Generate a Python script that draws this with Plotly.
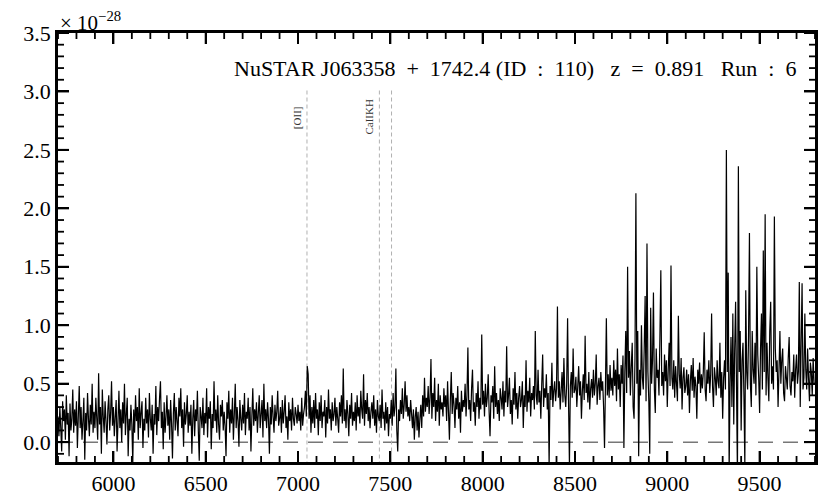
import plotly.graph_objects as go

# wavelength grid (Angstrom), 5 A sampling; one row = 100 A
wave_start = 5700
wave_step = 5

flux_blue = [  # 5700-6695
    0.22, 0.05, 0.30, 0.12, -0.08, 0.35, 0.18, 0.28, 0.02, 0.40, 0.15, 0.25, -0.12, 0.33, 0.10, 0.20, 0.45, 0.08, 0.28, 0.14,
    0.35, -0.05, 0.22, 0.48, 0.12, 0.30, 0.02, 0.18, 0.38, -0.15, 0.25, 0.10, 0.42, 0.20, 0.05, 0.32, 0.15, 0.50, 0.08, 0.26,
    0.12, 0.38, 0.20, 0.02, 0.59, 0.15, 0.30, -0.10, 0.45, 0.22, 0.08, 0.35, 0.18, -0.02, 0.28, 0.40, 0.10, 0.25, 0.52, 0.14,
    0.30, 0.05, 0.22, 0.36, -0.08, 0.18, 0.44, 0.12, 0.28, 0.00, 0.34, 0.16, 0.50, 0.06, 0.24, 0.38, -0.12, 0.20, 0.10, 0.32,
    0.15, -0.18, 0.28, 0.08, 0.40, 0.18, 0.30, 0.02, 0.46, 0.12, 0.25, 0.35, -0.05, 0.20, 0.10, 0.38, 0.16, 0.28, 0.04, 0.42,
    0.20, 0.10, 0.32, -0.10, 0.24, 0.15, 0.48, 0.06, 0.30, 0.18, 0.38, 0.52, 0.12, 0.26, -0.06, 0.34, 0.08, 0.22, 0.40, 0.14,
    0.28, 0.02, 0.36, 0.16, -0.14, 0.25, 0.42, 0.10, 0.30, 0.18, 0.05, 0.38, 0.22, 0.46, 0.12, 0.28, -0.04, 0.34, 0.15, 0.24,
    0.40, 0.08, 0.26, 0.14, 0.32, -0.10, 0.20, 0.36, 0.05, 0.28, 0.18, 0.44, 0.10, -0.16, 0.30, 0.22, 0.12, 0.38, 0.06, 0.25,
    0.16, 0.46, 0.04, 0.30, 0.20, 0.35, -0.06, 0.24, 0.12, 0.52, 0.18, 0.28, 0.08, 0.40, 0.15, 0.02, 0.32, 0.22, 0.36, 0.10,
    0.26, 0.14, -0.12, 0.34, 0.20, 0.44, 0.08, 0.28, 0.16, 0.38, 0.02, 0.24, 0.50, 0.12, 0.30, 0.18, -0.04, 0.36, 0.20, 0.10,
]
flux_mid = [  # 6700-7695
    0.32, 0.16, 0.42, 0.06, 0.26, 0.20, 0.38, 0.10, 0.30, -0.08, 0.22, 0.46, 0.14, 0.28, 0.18, 0.34, 0.08, 0.25, 0.40, 0.12,
    0.24, 0.36, 0.04, 0.50, 0.18, 0.28, 0.12, 0.34, 0.20, -0.10, 0.30, 0.15, 0.40, 0.22, 0.08, 0.32, 0.18, 0.26, 0.44, 0.14,
    0.20, 0.30, 0.08, 0.36, 0.16, 0.26, 0.40, 0.12, 0.22, 0.02, 0.34, 0.18, 0.28, 0.10, 0.38, 0.20, 0.14, 0.30, 0.24, 0.16,
    0.32, 0.18, 0.26, 0.10, 0.38, 0.14, 0.24, 0.30, 0.44, 0.22, 0.65, 0.58, 0.20, 0.40, 0.08, 0.30, 0.16, 0.36, 0.12, 0.42,
    0.20, 0.28, 0.06, 0.34, 0.18, 0.40, 0.12, 0.26, 0.22, 0.36, 0.04, 0.30, 0.16, 0.45, 0.20, 0.28, 0.10, 0.34, 0.18, 0.24,
    0.38, 0.14, 0.30, 0.20, 0.08, 0.34, 0.22, 0.40, 0.16, 0.63, 0.18, 0.28, 0.12, 0.36, 0.24, 0.05, 0.32, 0.20, 0.42, 0.14,
    0.26, 0.18, 0.34, 0.10, 0.40, 0.22, 0.30, 0.16, 0.44, 0.28, 0.20, 0.58, 0.14, 0.36, 0.24, 0.42, 0.18, 0.30, 0.12, 0.26,
    0.34, 0.20, 0.40, 0.14, 0.28, 0.08, 0.36, 0.22, 0.18, 0.32, 0.12, 0.45, 0.20, 0.26, 0.10, 0.34, 0.16, 0.30, 0.05, 0.24,
    0.20, 0.36, 0.14, 0.42, 0.22, 0.30, 0.63, 0.10, -0.08, 0.28, 0.18, 0.36, 0.24, 0.46, 0.20, 0.32, 0.52, 0.26, 0.40, 0.22,
    0.30, 0.18, 0.36, 0.24, 0.12, 0.28, 0.02, 0.22, 0.30, 0.10, 0.26, 0.04, 0.20, 0.32, 0.12, 0.40, 0.22, 0.55, 0.26, 0.38,
]
flux_red = [  # 7700-8695
    0.30, 0.48, 0.24, 0.38, 0.71, 0.20, 0.42, 0.30, 0.55, 0.18, 0.36, 0.26, 0.50, 0.14, 0.40, 0.28, 0.34, 0.22, 0.46, 0.30,
    0.40, 0.18, 0.52, 0.26, 0.02, 0.36, 0.60, 0.24, 0.42, 0.32, 0.12, 0.38, 0.28, 0.48, 0.20, 0.34, 0.08, 0.44, 0.26, 0.36,
    0.30, 0.50, 0.22, 0.40, 0.81, 0.28, 0.36, 0.18, 0.46, 0.62, 0.26, 0.34, 0.14, 0.42, 0.30, 0.52, 0.20, 0.38, 0.28, 0.92,
    0.32, 0.44, 0.22, 0.50, 0.30, 0.38, 0.58, 0.26, 0.05, 0.40, 0.34, 0.48, 0.20, 0.65, 0.30, 0.42, 0.24, 0.36, 0.18, 0.46,
    0.38, 0.28, 0.52, 0.22, 0.44, 0.34, 0.82, 0.30, 0.40, 0.55, 0.24, 0.36, 0.15, 0.46, 0.32, 0.60, 0.28, 0.42, 0.20, 0.38,
    0.48, 0.30, 0.36, 0.52, 0.12, 0.40, 0.30, 0.70, 0.26, 0.44, 0.34, 0.55, 0.22, 0.42, 0.36, 0.48, 0.28, 0.95, 0.40, 0.32,
    0.62, 0.34, 0.44, 0.20, 0.50, 0.75, 0.30, 0.46, 0.38, 0.58, 0.28, 0.42, -0.20, 0.48, 0.36, 0.68, 0.30, 0.44, 0.52, 0.35,
    0.46, 1.16, 0.38, 0.52, 0.28, 0.44, 0.60, 0.34, 0.72, 0.40, 0.30, 0.50, 1.06, 0.36, -0.20, 0.48, 0.60, 0.38, 0.80, 0.42,
    0.45, 0.56, 0.30, 0.48, 0.65, 0.40, 0.52, 0.20, 0.44, 0.58, 0.36, 0.91, 0.42, 0.50, 0.34, 0.60, 0.28, 0.46, 0.54, 0.38,
    0.62, 0.40, 0.50, 0.75, 0.32, 0.48, 0.55, 0.36, 0.60, 0.44, 0.52, 0.30, -0.05, 0.48, 1.06, 0.40, 0.58, 0.38, 0.66, 0.44,
]
flux_far = [  # 8700-9800
    0.55, 0.40, 0.70, 0.48, 0.62, 0.35, 0.80, 0.45, 0.58, 0.30, 0.66, 0.50, 0.74, -0.05, 0.60, 0.95, 0.42, 1.50, 0.55, 0.78,
    0.40, 0.65, 0.85, 0.30, 0.20, 0.72, 2.13, 0.50, 0.95, -0.12, 0.62, 0.40, 1.00, 0.55, 0.45, 0.80, 1.25, 0.35, 1.70, 0.60,
    0.35, -0.10, 1.15, 0.50, 0.70, 1.28, 0.45, 0.25, 0.80, 0.55, 0.62, 0.40, 0.90, 1.47, 0.48, 0.60, 0.40, 0.75, 0.52, 0.70,
    0.30, 0.62, 0.85, 0.48, 1.51, 0.55, 0.45, 0.70, 0.38, 0.65, 0.50, 0.35, 1.08, 0.58, 0.46, 0.72, 0.28, 0.55, 0.64, 0.42,
    0.48, 0.62, 0.40, 0.58, 0.25, 0.52, 0.66, 0.44, 0.72, 0.38, 0.56, 0.48, 0.20, 0.62, 0.50, 0.68, 0.42, 0.58, 0.46, 0.60,
    0.94, 0.45, 0.35, 0.62, 0.50, 0.70, 0.42, 0.58, 1.10, 0.48, 0.30, 0.64, 0.55, 0.40, 0.70, 0.52, 0.46, 0.85, 0.38, 0.60,
    0.20, 0.55, 0.70, 0.45, 2.50, 0.60, 1.45, -0.25, 0.50, 0.90, 0.30, 1.10, 0.15, 0.80, 1.20, 0.45, -0.30, 2.36, 0.60, 0.95,
    0.10, 0.70, 0.85, 0.40, -0.20, 1.30, 0.60, 0.45, 0.90, 1.79, 0.50, 0.30, 0.95, 0.62, 0.50, 0.85, 0.40, 1.50, 0.75, 0.55,
    0.25, 0.80, 1.10, 0.45, 1.64, 0.60, 1.95, 0.40, 0.85, 0.55, 0.35, 0.95, 1.20, 0.50, 0.65, 0.45, 1.93, 0.80, 0.60, 0.70,
    0.30, 0.62, 0.95, 0.50, 0.70, 0.80, 0.42, 0.35, 0.65, 0.55, 0.45, 0.72, 0.90, 0.48, 0.40, 0.60, 0.52, 0.75, 0.38, 0.62,
    0.75, 0.50, 0.60, 1.37, 0.30, 0.85, 1.36, 0.45, 0.55, 1.10, 0.62, 0.45, 0.80, 0.55, 0.35, 0.68, 0.60, 0.40, 0.72, 0.50,
    0.50,
]

flux = flux_blue + flux_mid + flux_red + flux_far
wave = [wave_start + wave_step * i for i in range(len(flux))]

line_names = ["[OII]", "CaIIKH", ""]
line_rest = [3727.4, 3934.8, 3969.6]
redshift = 0.891
title_text = ("NuSTAR J063358&nbsp; +&nbsp; 1742.4 (ID&nbsp; :&nbsp; 110)&nbsp;&nbsp; "
              "z&nbsp; =&nbsp; 0.891&nbsp;&nbsp; Run&nbsp; :&nbsp; 6")

x_range = [5700, 9800]
y_range = [-0.17, 3.5]
x_major = [6000, 6500, 7000, 7500, 8000, 8500, 9000, 9500]
x_minor = [w for w in range(5700, 9801, 100) if w % 500 != 0]
y_major = [0.0, 0.5, 1.0, 1.5, 2.0, 2.5, 3.0, 3.5]
y_minor = [k / 10 for k in range(-1, 35) if k % 5 != 0]

FONT = "Liberation Serif"
FIG_W, FIG_H = 822, 490
MARGIN = dict(l=50, r=15, t=25, b=36)
PLOT_W = FIG_W - MARGIN["l"] - MARGIN["r"]
PLOT_H = FIG_H - MARGIN["t"] - MARGIN["b"]

fig = go.Figure()
fig.add_trace(go.Scatter(x=wave, y=flux, mode="lines",
                         line=dict(color="black", width=1.2, simplify=False),
                         showlegend=False, hoverinfo="skip"))

shapes = []
annotations = []
for name, rest in zip(line_names, line_rest):
    obs = rest * (1 + redshift)
    shapes.append(dict(type="line", xref="x", yref="y", x0=obs, x1=obs,
                       y0=-0.2, y1=3.03,
                       line=dict(color="#b0b0b0", width=1, dash="4px,3px"),
                       layer="below"))
    if name:
        annotations.append(dict(x=obs, y=2.78, xref="x", yref="y", text=name,
                                showarrow=False, textangle=-90, xshift=-10,
                                font=dict(family=FONT, size=11, color="#333")))
shapes.append(dict(type="line", xref="paper", yref="y", x0=0, x1=1, y0=0, y1=0,
                   line=dict(color="#777777", width=1.5, dash="15px,10px"),
                   layer="below"))

# inward tick marks on all four sides, lengths given in paper fractions
def x_tick(v, length_px, width):
    f = length_px / PLOT_H
    for y0, y1 in ((0, f), (1, 1 - f)):
        shapes.append(dict(type="line", xref="x", yref="paper",
                           x0=v, x1=v, y0=y0, y1=y1, layer="below",
                           line=dict(color="black", width=width)))

def y_tick(v, length_px, width):
    f = length_px / PLOT_W
    for x0, x1 in ((0, f), (1, 1 - f)):
        shapes.append(dict(type="line", xref="paper", yref="y",
                           y0=v, y1=v, x0=x0, x1=x1, layer="below",
                           line=dict(color="black", width=width)))

for v in x_major:
    x_tick(v, 11, 2)
for v in x_minor:
    x_tick(v, 6, 1.8)
for v in y_major:
    y_tick(v, 11, 2)
for v in y_minor:
    y_tick(v, 6, 1.8)

annotations.append(dict(x=0.978, y=0.918, xref="paper", yref="paper",
                        text=title_text, showarrow=False, xanchor="right",
                        yanchor="middle",
                        font=dict(family=FONT, size=22, color="black")))
annotations.append(dict(x=0.0, y=1.0, xref="paper", yref="paper",
                        text="× 10<sup>−28</sup>", showarrow=False,
                        xanchor="left", yanchor="bottom", yshift=-4,
                        font=dict(family=FONT, size=21, color="black")))

# page body has an 8px margin: size the figure so the plot area lands
# at the reference position inside the 830x498 window
fig.update_layout(
    width=FIG_W, height=FIG_H,
    margin=dict(autoexpand=False, **MARGIN),
    paper_bgcolor="white", plot_bgcolor="white",
    shapes=shapes, annotations=annotations,
)
fig.update_xaxes(range=x_range, tickvals=x_major, tickformat="d",
                 showgrid=False, zeroline=False,
                 ticks="inside", ticklen=11, tickwidth=2, tickcolor="black",
                 showline=True, linecolor="black", linewidth=2.5, mirror="ticks",
                 tickfont=dict(family=FONT, size=22, color="black"))
fig.update_yaxes(range=y_range, tickvals=y_major, tickformat=".1f",
                 showgrid=False, zeroline=False,
                 ticks="inside", ticklen=11, tickwidth=2, tickcolor="black",
                 showline=True, linecolor="black", linewidth=2.5, mirror="ticks",
                 tickfont=dict(family=FONT, size=22, color="black"))

fig.write_html("out.html")
